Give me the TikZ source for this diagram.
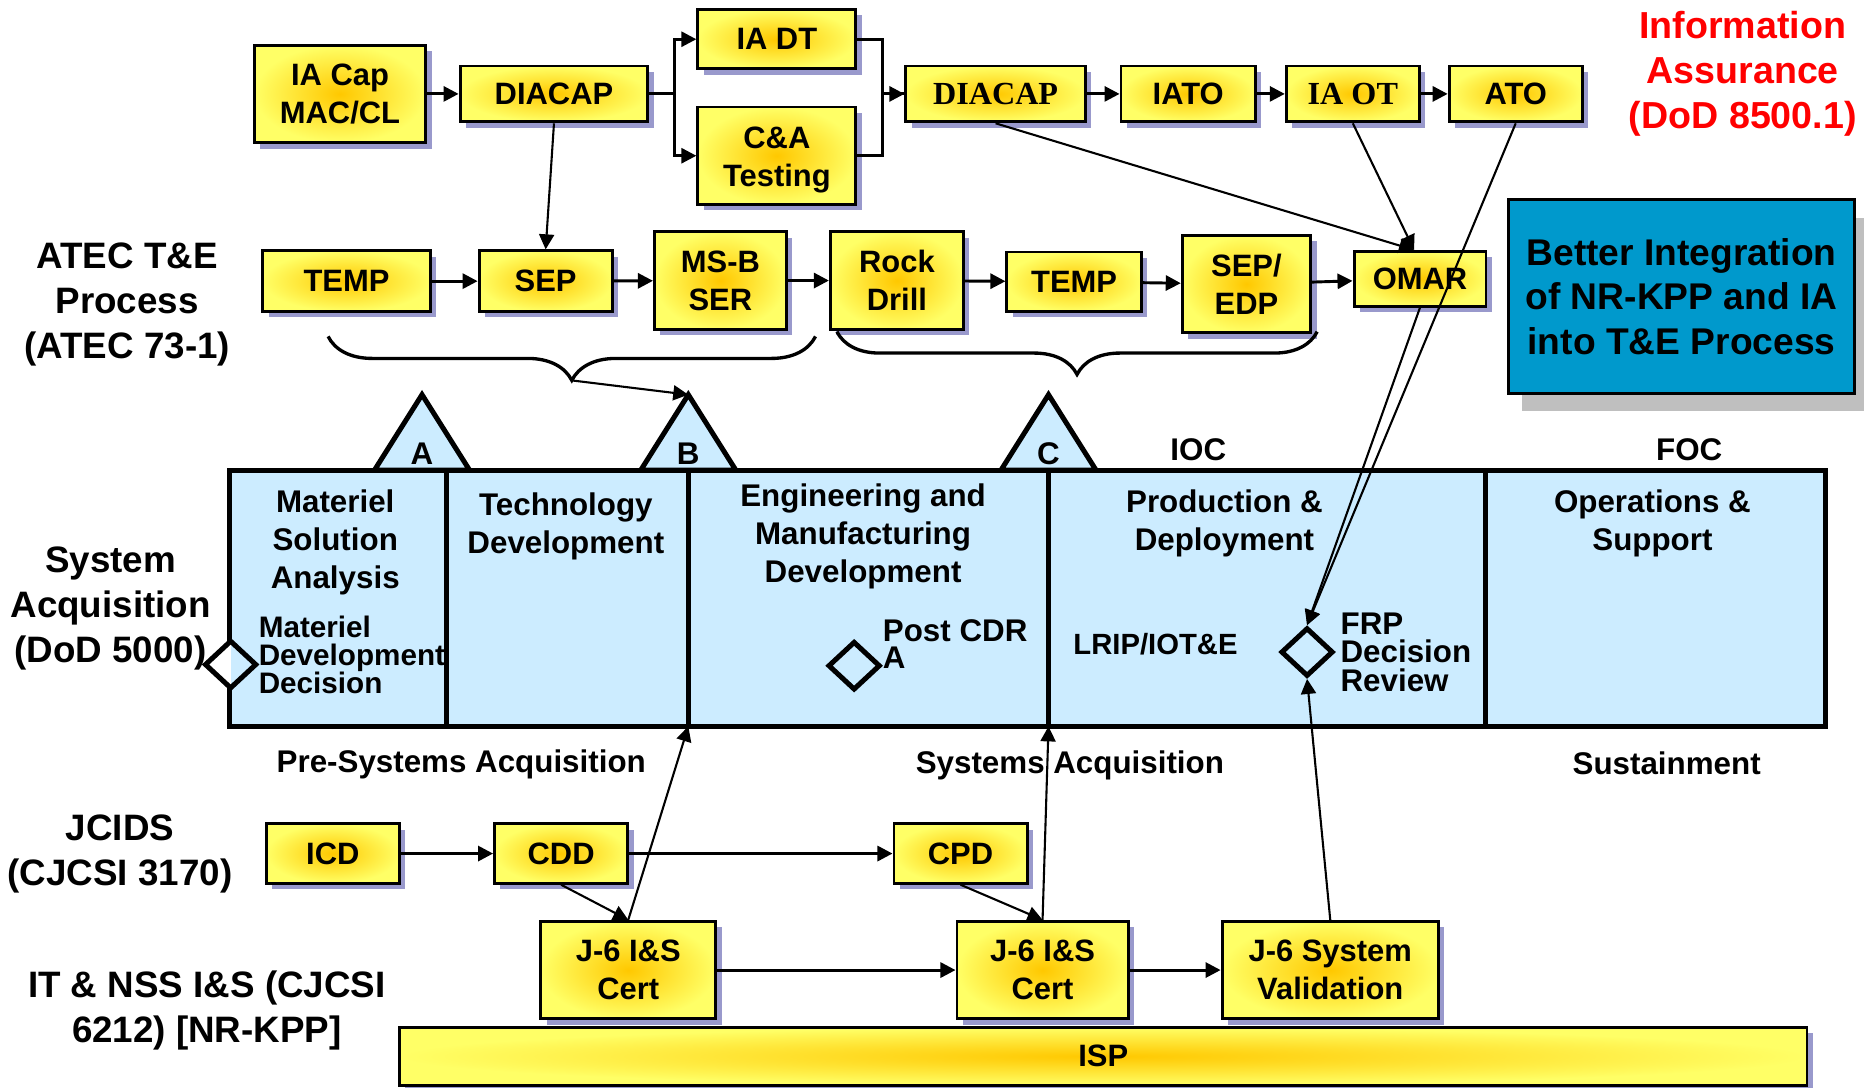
\documentclass[tikz,border=0pt]{standalone}
\usepackage{fontspec}
\setmainfont{Liberation Sans}
\newfontfamily\timesbf{Liberation Serif}
\usetikzlibrary{arrows.meta, positioning, shapes.geometric, shadows, decorations.pathreplacing}

\definecolor{boxinner}{RGB}{255,200,0}
\definecolor{boxouter}{RGB}{255,255,102}
\definecolor{boxshadow}{RGB}{153,153,204}
\definecolor{barblue}{RGB}{204,236,255}
\definecolor{tealbox}{RGB}{0,153,204}
\definecolor{grayshadow}{RGB}{191,191,191}

\begin{document}
\begin{tikzpicture}[
    box/.style={draw, line width=0.7pt, inner color=boxinner, outer color=boxouter,
                drop shadow={shadow xshift=0.05cm, shadow yshift=-0.05cm,
                             fill=boxshadow, opacity=1},
                align=center, inner sep=0pt,
                font=\bfseries\fontsize{7.4}{9.1}\selectfont},
    serif/.style={font=\timesbf\bfseries\fontsize{7.7}{9.1}\selectfont},
    phase/.style={align=center, font=\bfseries\fontsize{7.5}{9.1}\selectfont},
    note/.style={align=left, anchor=west, inner sep=0pt,
                 font=\bfseries\fontsize{7.3}{6.7}\selectfont},
    rowlabel/.style={align=center, font=\bfseries\fontsize{8.8}{10.8}\selectfont},
    mstone/.style={draw, line width=1.2pt, fill=barblue, line join=miter},
    decision/.style={diamond, draw, line width=1.2pt, fill=barblue,
                     minimum width=0.44cm, minimum height=0.41cm, inner sep=0pt},
    arr/.style={-{Triangle[length=3.6pt, width=3.6pt]}, line width=0.7pt},
    link/.style={-{Triangle[length=3.6pt, width=3.6pt]}, line width=0.5pt},
  ]
  \useasboundingbox (0,0) rectangle (15.68,-9.15);

  % Information assurance row
  \node[box, minimum width=1.44cm, minimum height=0.82cm] (iacap) at (2.86,-0.79) {IA Cap\\MAC/CL};
  \node[box, minimum width=1.58cm, minimum height=0.47cm] (diacapa) at (4.66,-0.79) {DIACAP};
  \node[box, minimum width=1.33cm, minimum height=0.50cm] (iadt) at (6.535,-0.33) {IA DT};
  \node[box, minimum width=1.33cm, minimum height=0.82cm] (catest) at (6.535,-1.31) {\rule{0pt}{1.9ex}C\&A\\Testing};
  \node[box, serif, minimum width=1.51cm, minimum height=0.47cm] (diacapb) at (8.375,-0.79) {DIACAP};
  \node[box, minimum width=1.13cm, minimum height=0.47cm] (iato) at (9.995,-0.79) {IATO};
  \node[box, serif, minimum width=1.12cm, minimum height=0.47cm] (iaot) at (11.38,-0.79) {IA OT};
  \node[box, minimum width=1.12cm, minimum height=0.47cm] (ato) at (12.75,-0.79) {ATO};
  \node[align=center, text=red, font=\bfseries\fontsize{9}{10.8}\selectfont] (ia) at (14.66,-0.62)
    {Information\\Assurance\\(DoD 8500.1)};

  % ATEC row
  \node[rowlabel] (atec) at (1.07,-2.56) {ATEC T\&E\\Process\\(ATEC 73-1)};
  \node[box, minimum width=1.41cm, minimum height=0.51cm] (tempa) at (2.915,-2.365) {TEMP};
  \node[box, minimum width=1.12cm, minimum height=0.51cm] (sepa) at (4.59,-2.365) {SEP};
  \node[box, minimum width=1.11cm, minimum height=0.82cm] (msbser) at (6.06,-2.36) {MS-B\\SER};
  \node[box, minimum width=1.12cm, minimum height=0.82cm] (rock) at (7.545,-2.36) {Rock\\Drill};
  \node[box, minimum width=1.13cm, minimum height=0.50cm] (tempb) at (9.035,-2.37) {TEMP};
  \node[box, minimum width=1.08cm, minimum height=0.82cm] (sepedp) at (10.485,-2.39) {SEP/\\EDP};
  \node[box, minimum width=1.11cm, minimum height=0.46cm] (omar) at (11.945,-2.345) {OMAR};
  \node[draw, line width=0.8pt, fill=tealbox, minimum width=2.91cm, minimum height=1.63cm,
        drop shadow={shadow xshift=0.11cm, shadow yshift=-0.15cm, fill=grayshadow, opacity=1},
        align=center, font=\bfseries\fontsize{8.9}{10.7}\selectfont] (better) at (14.145,-2.495)
    {Better Integration\\of NR-KPP and IA\\into T\&E Process};

  % Braces under the T&E steps
  \draw[line width=0.8pt, decorate, decoration={brace, mirror, amplitude=0.37cm}]
    (2.76,-2.83) -- (6.86,-2.83) coordinate[pos=0.5, yshift=-0.37cm] (bracea);
  \draw[line width=0.8pt, decorate, decoration={brace, mirror, amplitude=0.36cm}]
    (7.04,-2.79) -- (11.08,-2.79) coordinate[pos=0.5, yshift=-0.36cm] (braceb);

  % Acquisition phases
  \node[rowlabel] (acq) at (0.93,-5.12) {System\\Acquisition\\(DoD 5000)};
  \draw[line width=1.2pt, fill=barblue] (1.93,-3.955) rectangle (15.355,-6.11);
  \foreach \x in {3.755,5.79,8.82,12.495} {
    \draw[line width=1.2pt] (\x,-3.955) -- (\x,-6.11);
  }
  \foreach \m/\x in {A/3.55,B/5.79,C/8.82} {
    \draw[mstone] ({\x-0.40},-3.955) -- (\x,-3.32) -- ({\x+0.40},-3.955) -- cycle;
    \node[phase] at (\x,-3.815) {\m};
    \coordinate (ms\m) at (\x,-3.32);
  }
  \coordinate (endB) at (5.79,-6.11);
  \coordinate (endC) at (8.82,-6.11);
  \node[phase] (ioc) at (10.08,-3.78) {IOC};
  \node[phase] (foc) at (14.21,-3.78) {FOC};

  \node[phase] (msa) at (2.82,-4.56) {Materiel\\Solution\\Analysis};
  \node[phase] (td) at (4.76,-4.43) {Technology\\Development};
  \node[phase] (emd) at (7.26,-4.51) {Engineering and\\Manufacturing\\Development};
  \node[phase] (pd) at (10.30,-4.40) {Production \&\\Deployment};
  \node[phase] (os) at (13.90,-4.40) {Operations \&\\Support};

  \node[decision, fill=white, path picture={\fill[barblue] (path picture bounding box.north)
        rectangle (path picture bounding box.south east);}] (mdd) at (1.94,-5.59) {};
  \node[note, font=\bfseries\fontsize{7.1}{6.7}\selectfont] (mddtext) at (2.17,-5.505)
    {Materiel\\Development\\Decision};
  \node[decision] (cdr) at (7.185,-5.60) {};
  \node[note, font=\bfseries\fontsize{7.5}{6.5}\selectfont] (cdrtext) at (7.42,-5.415) {Post CDR\\A};
  \node[phase, font=\bfseries\fontsize{7}{8}\selectfont] (lrip) at (9.72,-5.42) {LRIP/IOT\&E};
  \node[decision] (frp) at (10.995,-5.485) {};
  \node[note, font=\bfseries\fontsize{7.5}{6.8}\selectfont] (frptext) at (11.27,-5.485)
    {FRP\\Decision\\Review};

  \node[phase] (presys) at (3.88,-6.43) {Pre-Systems Acquisition};
  \node[phase] (sys) at (9.00,-6.44) {Systems Acquisition};
  \node[phase] (sust) at (14.02,-6.42) {Sustainment};

  % JCIDS row
  \node[rowlabel] (jcids) at (1.01,-7.18) {JCIDS\\(CJCSI 3170)};
  \node[box, minimum width=1.12cm, minimum height=0.50cm] (icd) at (2.80,-7.18) {ICD};
  \node[box, minimum width=1.12cm, minimum height=0.50cm] (cdd) at (4.72,-7.18) {CDD};
  \node[box, minimum width=1.12cm, minimum height=0.50cm] (cpd) at (8.08,-7.18) {CPD};

  % I&S certification row
  \node[rowlabel] (itnss) at (1.74,-8.50) {IT \& NSS I\&S (CJCSI\\6212) [NR-KPP]};
  \node[box, minimum width=1.47cm, minimum height=0.82cm] (jsa) at (5.285,-8.16) {J-6 I\&S\\Cert};
  \node[box, minimum width=1.44cm, minimum height=0.82cm] (jsb) at (8.77,-8.16) {J-6 I\&S\\Cert};
  \node[box, minimum width=1.82cm, minimum height=0.82cm] (jsv) at (11.19,-8.16) {J-6 System\\Validation};
  \node[box, minimum width=11.84cm, minimum height=0.49cm] (isp) at (9.28,-8.885) {ISP};

  % Connectors
  \draw[arr] (iacap) -- (diacapa);
  \draw[arr] (diacapa.east) -- ++(0.21,0) |- (iadt.west);
  \draw[arr] (diacapa.east) -- ++(0.21,0) |- (catest.west);
  \draw[line width=0.7pt] (catest.east) -- ++(0.21,0) |- (diacapb.west);
  \draw[arr] (iadt.east) -- ++(0.21,0) |- (diacapb.west);
  \draw[arr] (diacapb) -- (iato);
  \draw[arr] (iato) -- (iaot);
  \draw[arr] (iaot) -- (ato);
  \draw[link] (diacapa.south) -- (sepa.north);
  \draw[link] (diacapb.south) -- ([xshift=-0.5mm]omar.north);
  \draw[link] (iaot.south) -- ([xshift=-0.5mm]omar.north);
  \draw[link] (ato.south) -- (frp.north);
  \draw[link] (omar.south) -- (frp.north);

  \draw[arr] (tempa) -- (sepa);
  \draw[arr] (sepa) -- (msbser);
  \draw[arr] (msbser) -- (rock);
  \draw[arr] (rock) -- (tempb);
  \draw[arr] (tempb) -- (sepedp);
  \draw[arr] (sepedp) -- (omar);
  \draw[link] (bracea) -- (msB);

  \draw[arr] (icd) -- (cdd);
  \draw[arr] (cdd) -- (cpd);
  \draw[link] (cdd.south) -- (jsa.north);
  \draw[link] (cpd.south) -- (jsb.north);
  \draw[arr] (jsa) -- (jsb);
  \draw[arr] (jsb) -- (jsv);
  \draw[link] (jsa.north) -- (endB);
  \draw[link] (jsb.north) -- (endC);
  \draw[link] (jsv.north) -- (frp.south);
\end{tikzpicture}
\end{document}
